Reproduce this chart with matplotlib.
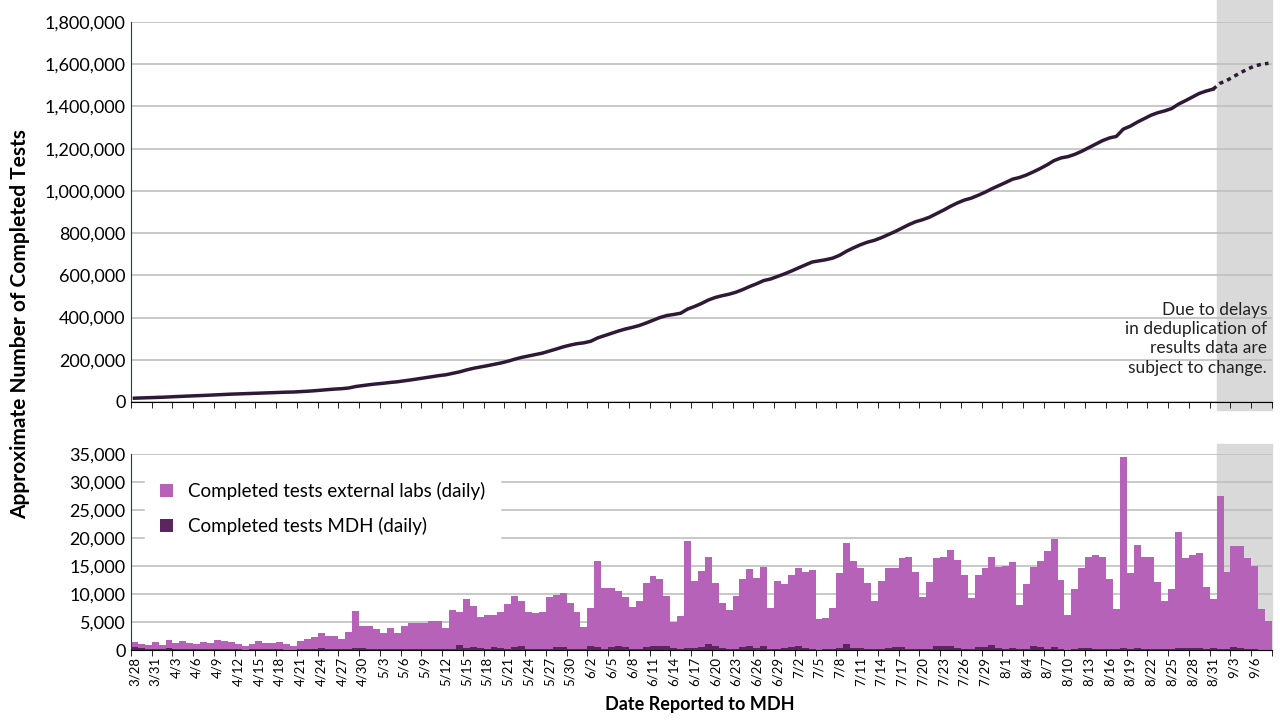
import matplotlib
matplotlib.use("Agg")
import matplotlib.pyplot as plt
import numpy as np
import pandas as pd
from matplotlib.patches import Rectangle

dates = pd.date_range("2020-03-28", "2020-09-08")
date_labels = [f"{d.month}/{d.day}" for d in dates]

daily_total = [
    1500, 1070, 900, 1500, 900, 1800, 1300, 1650, 1250, 1070,
    1500, 1300, 1800, 1600, 1430, 1070, 700, 1070, 1600, 1250,
    1250, 1430, 1070, 700, 1650, 1950, 2300, 3000, 2500, 2500,
    1950, 3200, 7000, 4300, 4300, 3750, 3000, 3900, 3000, 4300,
    4800, 4800, 4900, 5200, 5200, 3900, 7100, 6700, 9100, 7900,
    5900, 6300, 6300, 6800, 8200, 9600, 8700, 6800, 6600, 6800,
    9500, 9800, 10200, 8400, 6800, 4100, 7500, 15900, 11000, 11000,
    10500, 9500, 7700, 8800, 11900, 13200, 12700, 9600, 5000, 6000,
    19500, 12300, 14100, 16600, 12000, 8400, 7100, 9600, 12700, 14500,
    12900, 14800, 7500, 12300, 11800, 13400, 14600, 13900, 14300, 5500,
    5700, 7500, 13750, 19100, 15900, 14600, 12000, 8750, 12300, 14600,
    14600, 16400, 16600, 13900, 9500, 12100, 16400, 16600, 17900, 16100,
    13400, 9300, 13400, 14600, 16600, 14800, 15000, 15700, 8000, 11800,
    14800, 15900, 17700, 19800, 12500, 6250, 10900, 14600, 16600, 17000,
    16600, 12700, 7300, 34500, 13750, 18750, 16600, 16600, 12100, 8750,
    10900, 21100, 16400, 17000, 17300, 11250, 9100, 27500, 13900, 18600,
    18600, 16400, 15000, 7300, 5200,
]
mdh_daily = [
    500, 300, 100, 150, 100, 300, 200, 150, 100, 100,
    150, 100, 150, 100, 100, 100, 50, 100, 100, 100,
    100, 100, 50, 50, 100, 150, 250, 300, 150, 100,
    100, 250, 400, 350, 250, 200, 150, 200, 150, 200,
    150, 150, 150, 100, 100, 200, 200, 900, 400, 500,
    300, 100, 500, 300, 200, 500, 800, 100, 100, 100,
    200, 500, 500, 100, 100, 100, 800, 500, 200, 600,
    800, 500, 200, 100, 600, 700, 800, 700, 300, 100,
    300, 400, 600, 1000, 700, 300, 100, 200, 600, 800,
    300, 700, 100, 100, 300, 500, 700, 400, 100, 50,
    100, 200, 300, 1100, 300, 300, 100, 100, 200, 300,
    500, 500, 200, 100, 100, 200, 700, 800, 700, 300,
    100, 100, 500, 600, 900, 300, 200, 300, 100, 200,
    700, 500, 100, 500, 200, 50, 100, 300, 300, 200,
    100, 100, 200, 300, 200, 300, 200, 100, 200, 100,
    200, 400, 300, 400, 400, 100, 300, 150, 200, 600,
    300, 200, 100, 50, 50,
]
start_cumulative = 18000
yticks_top = [0, 200000, 400000, 600000, 800000, 1000000, 1200000, 1400000, 1600000, 1800000]
yticks_bot = [0, 5000, 10000, 15000, 20000, 25000, 30000, 35000]
assert len(daily_total) == len(dates) == len(mdh_daily)

total = np.array(daily_total, float)
mdh = np.array(mdh_daily, float)
ext = total - mdh
cum = start_cumulative + np.cumsum(total) - total[0]
x = np.arange(len(dates))
cut = date_labels.index("8/31")

FONT = "Lato"
plt.rcParams["font.family"] = FONT
fig = plt.figure(figsize=(12.8, 7.2), dpi=100)
ax1 = fig.add_axes([0.1023, 0.4417, 0.8914, 0.5278])
ax2 = fig.add_axes([0.1023, 0.0972, 0.8914, 0.2722])

for ax in (ax1, ax2):
    ax.set_xlim(-0.5, len(x) - 0.5)
    ax.spines[["top", "right"]].set_visible(False)
    ax.spines["left"].set_color("#1F3864")
    ax.grid(axis="y", color="#BFBFBF", lw=1.2)
    ax.set_axisbelow(True)
    ax.tick_params(axis="y", labelsize=13, length=0, pad=4)
    ax.set_xticks(np.arange(-0.5, len(x), 3), minor=True)
    ax.tick_params(axis="x", which="minor", length=4, color="black")

sx = cut + 0.5
ax1.add_patch(Rectangle((sx, -0.02), len(x) - 0.5 - sx, 1.08, transform=ax1.get_xaxis_transform(),
                        color="#D9D9D9", zorder=0.5, clip_on=False))
ax2.add_patch(Rectangle((sx, 0), len(x) - 0.5 - sx, 1.05, transform=ax2.get_xaxis_transform(),
                        color="#D9D9D9", zorder=0.5, clip_on=False))

ax1.plot(x[:cut + 1], cum[:cut + 1], color="#2E1A36", lw=2.5, zorder=3)
ax1.plot(x[cut:], cum[cut:], color="#2E1A36", lw=2.5, ls=(0, (1.2, 1.2)), zorder=3)
ax1.set_ylim(0, 1800000)
ax1.set_yticks(yticks_top)
ax1.set_yticklabels([f"{v:,}" for v in yticks_top])
ax1.set_xticks([])
ax1.text(len(x) - 1.2, 300000, "Due to delays\nin deduplication of\nresults data are\nsubject to change.",
         ha="right", va="center", fontsize=12.5, linespacing=1.25, color="#222222")

ax2.bar(x, mdh, width=1.0, color="#5B2560", label="Completed tests MDH (daily)", zorder=2)
ax2.bar(x, ext, width=1.0, bottom=mdh, color="#B762B9", label="Completed tests external labs (daily)", zorder=2)
ax2.set_ylim(0, 35000)
ax2.set_yticks(yticks_bot)
ax2.set_yticklabels([f"{v:,}" for v in yticks_bot])
ax2.set_xticks(x[::3])
ax2.set_xticklabels(date_labels[::3], rotation=90, fontsize=9.5)
ax2.tick_params(axis="x", which="major", length=0, pad=5)
h, l = ax2.get_legend_handles_labels()
ax2.legend(h[::-1], l[::-1], loc="upper left", bbox_to_anchor=(0.004, 0.98), fontsize=13.5,
           frameon=True, fancybox=False, edgecolor="white", framealpha=1,
           handlelength=0.7, handleheight=0.7, labelspacing=0.9, borderpad=0.8)

fig.text(0.016, 0.55, "Approximate Number of Completed Tests", rotation=90, ha="center", va="center",
         fontsize=15, fontweight="bold")
fig.text(0.547, 0.022, "Date Reported to MDH", ha="center", va="center", fontsize=13, fontweight="bold")

fig.savefig("out.png", dpi=100)
